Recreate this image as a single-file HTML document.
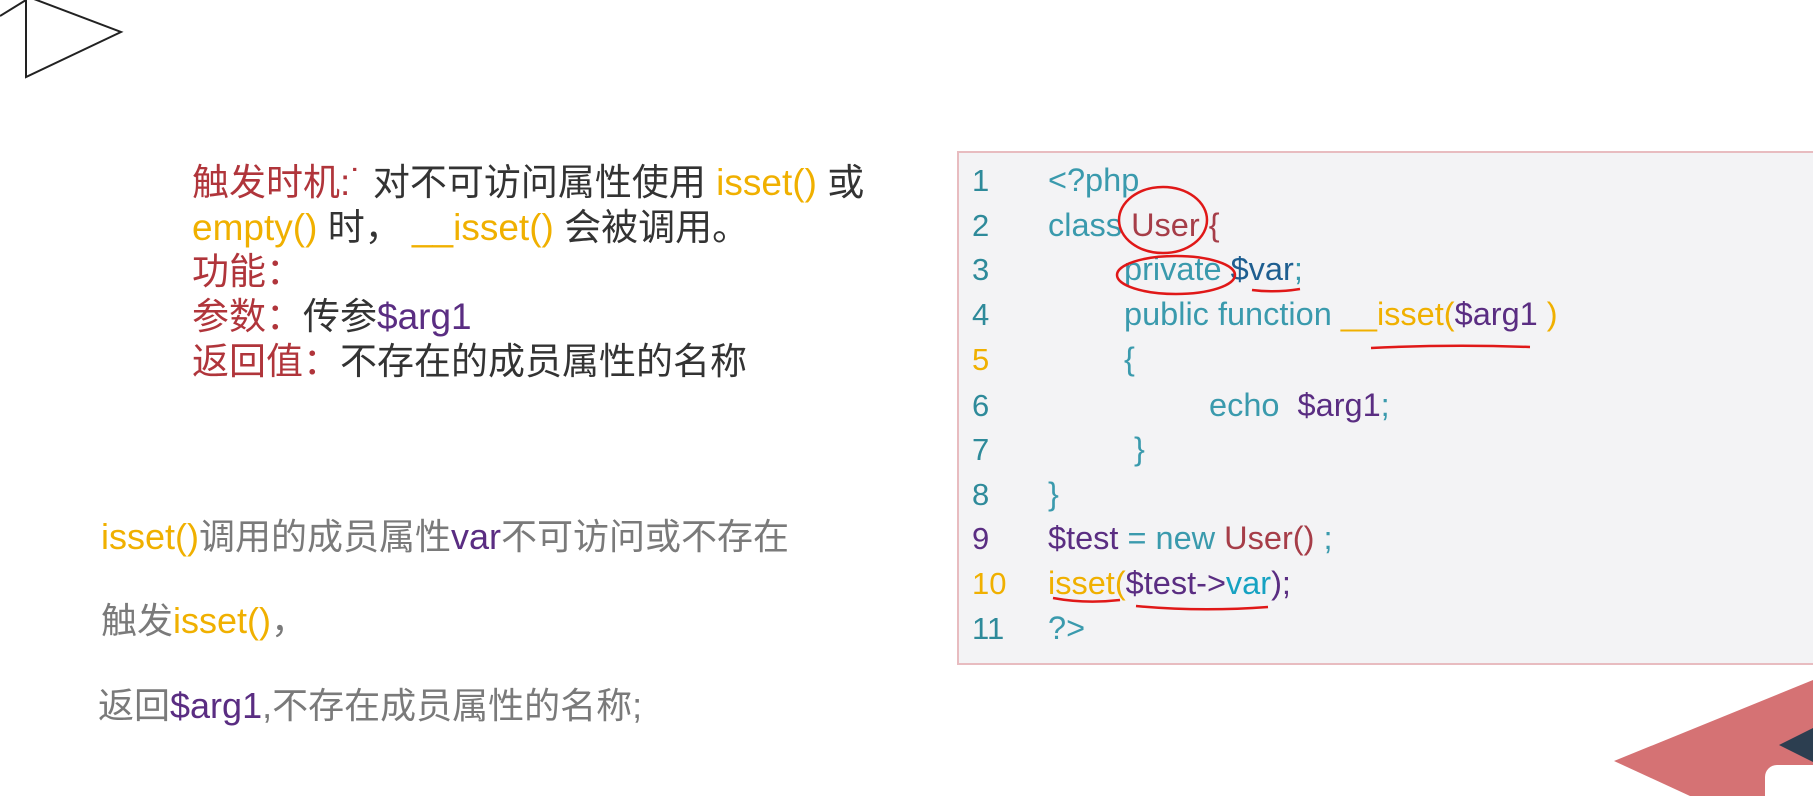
<!DOCTYPE html>
<html><head><meta charset="utf-8">
<style>
*{margin:0;padding:0}
body{width:1813px;height:796px;background:#fff;position:relative;overflow:hidden;font-family:"Liberation Sans","Noto Sans CJK SC",sans-serif}
.t{position:absolute;white-space:nowrap;line-height:45px}
.r{color:#b0353b}.d{color:#333}.y{color:#f0b000}.p{color:#5a2d82}.g{color:#7a7a7a}
#box{position:absolute;left:957px;top:151px;width:880px;height:510px;background:#f3f3f5;border:2px solid #e8bcc0}
.ln{position:absolute;left:972px;color:#2e8a9a;font-size:31px;line-height:45px}
.c{position:absolute;font-size:32.5px;line-height:45px;white-space:nowrap;color:#3a9aad}
.u{color:#a63d48}.b{color:#1e5e90}.v{color:#5a2d82}.yy{color:#f0b000}.cy{color:#16a2c2}
</style></head><body>
<svg width="1813" height="796" style="position:absolute;left:0;top:0">
<polyline points="0,16 26,0" stroke="#222" stroke-width="2" fill="none"/>
<polygon points="26,-4 121,32 26,77" fill="none" stroke="#222" stroke-width="2"/>
<polygon points="1614,761 1813,680 1813,796 1690,796" fill="#d57274"/>
<polygon points="1779,745 1813,728 1813,762" fill="#2c3e50"/>
<rect x="1765" y="765" width="60" height="50" rx="12" fill="#fff"/>
</svg>
<div class="t" style="left:192px;top:160px;font-size:37px"><span class="r">触发时机:˙</span> <span class="d">对不可访问属性使用</span> <span class="y">isset()</span> <span class="d">或</span></div>
<div class="t" style="left:192px;top:205px;font-size:37px"><span class="y">empty()</span> <span class="d">时，</span> <span class="y">__isset()</span> <span class="d">会被调用。</span></div>
<div class="t r" style="left:192px;top:249px;font-size:37px">功能：</div>
<div class="t" style="left:192px;top:294px;font-size:37px"><span class="r">参数：</span><span class="d">传参</span><span class="p">$arg1</span></div>
<div class="t" style="left:192px;top:339px;font-size:37px"><span class="r">返回值：</span><span class="d">不存在的成员属性的名称</span></div>

<div class="t" style="left:101px;top:514px;font-size:36px"><span class="y">isset()</span><span class="g">调用的成员属性</span><span class="p">var</span><span class="g">不可访问或不存在</span></div>
<div class="t" style="left:101px;top:598px;font-size:36px"><span class="g">触发</span><span class="y">isset()</span><span class="g">，</span></div>
<div class="t" style="left:98px;top:683px;font-size:36px"><span class="g">返回</span><span class="p">$arg1</span><span class="g">,不存在成员属性的名称;</span></div>

<div id="box"></div>
<div class="ln" style="top:158px">1</div>
<div class="ln" style="top:203px">2</div>
<div class="ln" style="top:247px">3</div>
<div class="ln" style="top:292px">4</div>
<div class="ln" style="top:337px;color:#f0b000">5</div>
<div class="ln" style="top:383px">6</div>
<div class="ln" style="top:427px">7</div>
<div class="ln" style="top:472px">8</div>
<div class="ln" style="top:516px;color:#5a2d82">9</div>
<div class="ln" style="top:561px;color:#f0b000">10</div>
<div class="ln" style="top:606px">11</div>

<div class="c" style="left:1048px;top:158px">&lt;?php</div>
<div class="c" style="left:1048px;top:203px">class <span class="u">User</span> <span class="u">{</span></div>
<div class="c" style="left:1124px;top:247px">private <span class="b">$var</span>;</div>
<div class="c" style="left:1124px;top:292px">public function <span class="yy">__isset(</span><span class="v">$arg1</span> <span class="yy">)</span></div>
<div class="c" style="left:1124px;top:337px">{</div>
<div class="c" style="left:1209px;top:383px">echo &nbsp;<span class="v">$arg1</span>;</div>
<div class="c" style="left:1134px;top:427px">}</div>
<div class="c" style="left:1048px;top:472px">}</div>
<div class="c" style="left:1048px;top:516px"><span class="v">$test</span> = new <span class="u">User()</span> ;</div>
<div class="c" style="left:1048px;top:561px"><span class="yy">isset(</span><span class="v">$test-&gt;</span><span class="cy">var</span><span class="v">);</span></div>
<div class="c" style="left:1048px;top:606px">?&gt;</div>

<svg width="1813" height="796" style="position:absolute;left:0;top:0" fill="none" stroke="#e01818" stroke-width="2.5">
<ellipse cx="1163" cy="220" rx="44" ry="33"/>
<ellipse cx="1176" cy="275" rx="59" ry="19"/>
<path d="M1252 290 Q1275 293 1300 289"/>
<path d="M1371 348 Q1450 344 1530 347"/>
<path d="M1053 598 Q1085 604 1120 600"/>
<path d="M1136 606 Q1200 612 1268 607"/>
</svg>
</body></html>
